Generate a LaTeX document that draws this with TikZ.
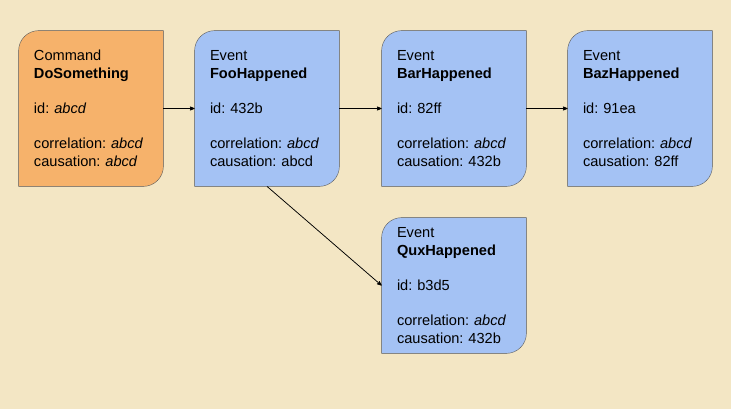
\documentclass[tikz,border=0pt]{standalone}
\usepackage{fontspec}
\setmainfont{Liberation Sans}
\usepackage{tikz}
\usetikzlibrary{arrows}
\usetikzlibrary{positioning}
\usetikzlibrary{backgrounds}
\frenchspacing
\definecolor{paper}{HTML}{F3E6C4}
\definecolor{cmdorange}{HTML}{F6B26B}
\definecolor{evtblue}{HTML}{A4C2F4}
\definecolor{edgegray}{HTML}{595959}
\tikzset{card/.style={minimum width=144pt,
    minimum height=155pt,
    text width=114pt,
    inner xsep=15pt,
    inner ysep=0pt,
    align=left,
    font=\fontsize{14.6}{17.6}\selectfont}}

\begin{document}
\begin{tikzpicture}[->,>=stealth',
      node distance=187pt,
      on grid,
      line width=0.75pt,
      x=1pt, y=1pt]

    \useasboundingbox (0,0) rectangle (731,-409);

    \node[card]
      (cmd) at (91,-108.5) {Command\\\textbf{DoSomething}\\[17.6pt]id: \textit{abcd}\\[17.6pt]correlation: \textit{abcd}\\causation: \textit{abcd}};
    \node[card]
      (foo) [right=176pt of cmd] {Event\\\textbf{FooHappened}\\[17.6pt]id: 432b\\[17.6pt]correlation: \textit{abcd}\\causation: abcd};
    \node[card]
      (bar) [right=of foo] {Event\\\textbf{BarHappened}\\[17.6pt]id: 82ff\\[17.6pt]correlation: \textit{abcd}\\causation: 432b};
    \node[card]
      (baz) [right=186pt of bar] {Event\\\textbf{BazHappened}\\[17.6pt]id: 91ea\\[17.6pt]correlation: \textit{abcd}\\causation: 82ff};
    \node[card, minimum height=135pt]
      (qux) [below=177pt of bar] {Event\\\textbf{QuxHappened}\\[17.6pt]id: b3d5\\[17.6pt]correlation: \textit{abcd}\\causation: 432b};

    % card outlines: round top-left and bottom-right corners
    \begin{scope}[on background layer, -]
      \fill[paper] (0,0) rectangle (731,-409);
      \foreach \n/\c in {cmd/cmdorange, foo/evtblue, bar/evtblue, baz/evtblue, qux/evtblue}
        \draw[draw=edgegray, fill=\c] (\n.south west) -- ([xshift=-20pt]\n.south east)
          arc[start angle=-90, end angle=0, radius=20pt] -- (\n.north east)
          -- ([xshift=20pt]\n.north west)
          arc[start angle=90, end angle=180, radius=20pt] -- cycle;
    \end{scope}

    \path[->]
      (cmd) edge (foo)
      (foo) edge (bar)
      (bar) edge (baz)
      (foo.south) edge (qux.west);

  \end{tikzpicture}
\end{document}
